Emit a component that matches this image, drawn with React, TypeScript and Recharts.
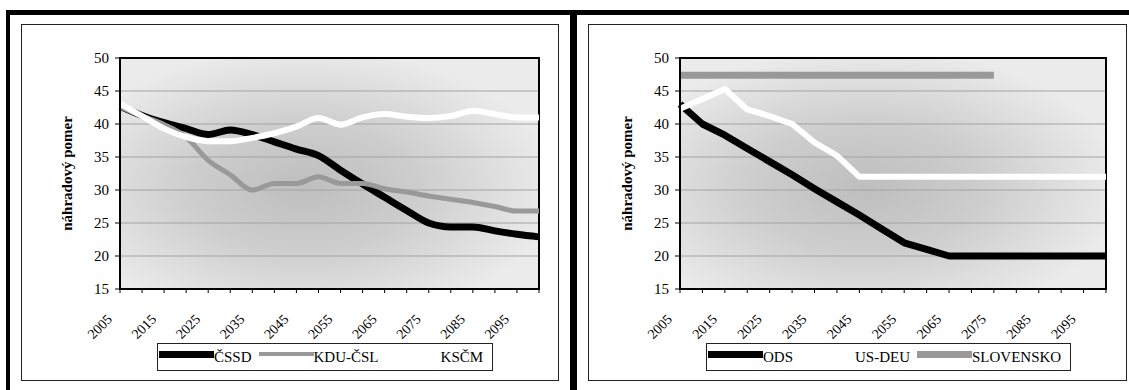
import React from 'react';
import { LineChart, Line, XAxis, YAxis, CartesianGrid, ReferenceArea } from 'recharts';

// categories: every 5 years, labels shown on every other tick
const years = [
    '2005', '2010', '2015', '2020', '2025', '2030', '2035', '2040', '2045', '2050',
    '2055', '2060', '2065', '2070', '2075', '2080', '2085', '2090', '2095', '2100',
];

// left panel
const cssd = [42.7, 41.3, 40.2, 39.3, 38.4, 39.1, 38.4, 37.3, 36.2, 35.2, 33.0, 30.9, 28.9, 26.9, 25.0, 24.4, 24.4, 23.8, 23.3, 22.9];
const kduCsl = [42.6, 41.2, 39.9, 38.0, 34.5, 32.3, 30.0, 31.0, 31.0, 32.0, 31.0, 31.0, 30.2, 29.7, 29.1, 28.6, 28.1, 27.5, 26.8, 26.8];
const kscm = [43.1, 41.2, 39.3, 38.0, 37.4, 37.4, 37.9, 38.6, 39.6, 40.9, 39.9, 41.0, 41.5, 41.1, 40.9, 41.2, 42.0, 41.5, 41.0, 41.0];

// right panel
const ods = [43.0, 40.0, 38.3, 36.3, 34.3, 32.3, 30.2, 28.2, 26.2, 24.1, 22.0, 21.0, 20.0, 20.0, 20.0, 20.0, 20.0, 20.0, 20.0, 20.0];
const usDeu = [42.3, 43.8, 45.3, 42.2, 41.2, 40.0, 37.2, 35.2, 32.0, 32.0, 32.0, 32.0, 32.0, 32.0, 32.0, 32.0, 32.0, 32.0, 32.0, 32.0];
const slovensko = [47.4, 47.4, 47.4, 47.4, 47.4, 47.4, 47.4, 47.4, 47.4, 47.4, 47.4, 47.4, 47.4, 47.4, 47.4, null, null, null, null, null];

const yTicks = [15, 20, 25, 30, 35, 40, 45, 50];
const yTitle = 'náhradový pomer';

const FONT = '"Liberation Serif", "Times New Roman", serif';

interface SeriesDef {
    key: string;
    name: string;
    color: string;
    width: number;
    swatch: number;
}

const leftSeries: SeriesDef[] = [
    { key: 'cssd', name: 'ČSSD', color: '#000000', width: 7, swatch: 7 },
    { key: 'kduCsl', name: 'KDU-ČSL', color: '#999999', width: 5, swatch: 4 },
    { key: 'kscm', name: 'KSČM', color: '#ffffff', width: 6, swatch: 6 },
];

const rightSeries: SeriesDef[] = [
    { key: 'ods', name: 'ODS', color: '#000000', width: 7, swatch: 7 },
    { key: 'usDeu', name: 'US-DEU', color: '#ffffff', width: 6, swatch: 6 },
    { key: 'slovensko', name: 'SLOVENSKO', color: '#999999', width: 7, swatch: 7 },
];

const leftData = years.map((year, i) => ({ year, cssd: cssd[i], kduCsl: kduCsl[i], kscm: kscm[i] }));
const rightData = years.map((year, i) => ({ year, ods: ods[i], usDeu: usDeu[i], slovensko: slovensko[i] }));

// every tick keeps its mark, only every second one gets a year
const yearFormatter = (value: string, index: number) => (index % 2 === 0 ? value : '');

const AxisTitle: React.FC<any> = (props) => {
    const { viewBox } = props;
    const cx = viewBox.x + viewBox.width - 53;
    const cy = viewBox.y + viewBox.height / 2;
    return (
        <text x={cx} y={cy} transform={`rotate(-90, ${cx}, ${cy})`} textAnchor="middle" dominantBaseline="central"
            fontFamily={FONT} fontWeight="bold" fontSize={15} fill="#000">
            {yTitle}
        </text>
    );
};

interface PanelProps {
    id: string;
    data: any[];
    series: SeriesDef[];
    left: number;
    width: number;
    yAxisWidth: number;
    rightMargin: number;
    curve: 'monotone' | 'linear';
    legendLeft: number;
    legendWidth: number;
}

const Panel: React.FC<PanelProps> = ({ id, data, series, left, width, yAxisWidth, rightMargin, curve, legendLeft, legendWidth }) => {
    return (
        <>
            <div style={{ position: 'absolute', left, top: 24 }}>
                <LineChart width={width} height={356} data={data} margin={{ top: 34, right: rightMargin, left: 0, bottom: 0 }}>
                    <defs>
                        <radialGradient id={id} cx="44%" cy="56%" r="60%">
                            <stop offset="0%" stopColor="#bebebe" />
                            <stop offset="45%" stopColor="#cdcdcd" />
                            <stop offset="100%" stopColor="#ebebeb" />
                        </radialGradient>
                    </defs>
                    <CartesianGrid vertical={false} stroke="#a3a3a3" fill={`url(#${id})`} fillOpacity={1} />
                    <XAxis
                        dataKey="year"
                        type="category"
                        height={91}
                        interval={0}
                        tickSize={4}
                        tickMargin={20}
                        angle={-45}
                        textAnchor="end"
                        tickFormatter={yearFormatter}
                        tick={{ fontFamily: FONT, fontSize: 14, fill: '#000', dx: -14 }}
                        stroke="#000"
                        axisLine={{ stroke: '#000', strokeWidth: 2 }}
                        tickLine={{ stroke: '#000' }}
                    />
                    <YAxis
                        type="number"
                        domain={[15, 50]}
                        ticks={yTicks}
                        width={yAxisWidth}
                        interval={0}
                        tickSize={5}
                        tickMargin={6}
                        tick={{ fontFamily: FONT, fontSize: 15, fill: '#000' }}
                        axisLine={{ stroke: '#000', strokeWidth: 2 }}
                        tickLine={{ stroke: '#000' }}
                        label={<AxisTitle />}
                    />
                    <ReferenceArea y1={15} y2={50} fill="none" stroke="#000" strokeWidth={2} ifOverflow="visible" />
                    {series.map((s) => (
                        <Line
                            key={s.key}
                            type={curve}
                            dataKey={s.key}
                            name={s.name}
                            stroke={s.color}
                            strokeWidth={s.width}
                            strokeLinejoin="round"
                            dot={false}
                            activeDot={false}
                            connectNulls={false}
                            isAnimationActive={false}
                        />
                    ))}
                </LineChart>
            </div>
            {/* inner frame of the panel */}
            <div style={{ position: 'absolute', left, top: 24, width: width + 1, height: 357, border: '1px solid #222', boxSizing: 'border-box', pointerEvents: 'none' }} />
            {/* legend */}
            <div style={{
                position: 'absolute', left: legendLeft, top: 343, width: legendWidth, height: 28,
                border: '1px solid #222', boxSizing: 'border-box', display: 'flex', alignItems: 'center',
                paddingLeft: 1, fontFamily: FONT, fontSize: 15, color: '#000',
            }}>
                {series.map((s) => (
                    <div key={s.key} style={{ display: 'flex', alignItems: 'center', marginRight: 7 }}>
                        <div style={{ width: 55, height: s.swatch, background: s.color, position: 'relative', top: -3 }} />
                        <span style={{ lineHeight: '17px', whiteSpace: 'nowrap' }}>{s.name}</span>
                    </div>
                ))}
            </div>
        </>
    );
};

const App: React.FC = () => {
    return (
        <div style={{ position: 'absolute', left: 0, top: 0, width: 1129, height: 390, background: '#fff', overflow: 'hidden' }}>
            {/* heavy outer frame */}
            <div style={{ position: 'absolute', left: 6, top: 10, width: 1123, height: 5, background: '#000' }} />
            <div style={{ position: 'absolute', left: 6, top: 10, width: 4, height: 380, background: '#000' }} />
            <div style={{ position: 'absolute', left: 570, top: 10, width: 7, height: 380, background: '#000' }} />

            <Panel id="bgLeft" data={leftData} series={leftSeries} left={21} width={537} yAxisWidth={99} rightMargin={19}
                curve="monotone" legendLeft={157} legendWidth={336} />
            <Panel id="bgRight" data={rightData} series={rightSeries} left={588} width={538} yAxisWidth={92} rightMargin={20}
                curve="linear" legendLeft={706} legendWidth={365} />
        </div>
    );
};

export default App;
